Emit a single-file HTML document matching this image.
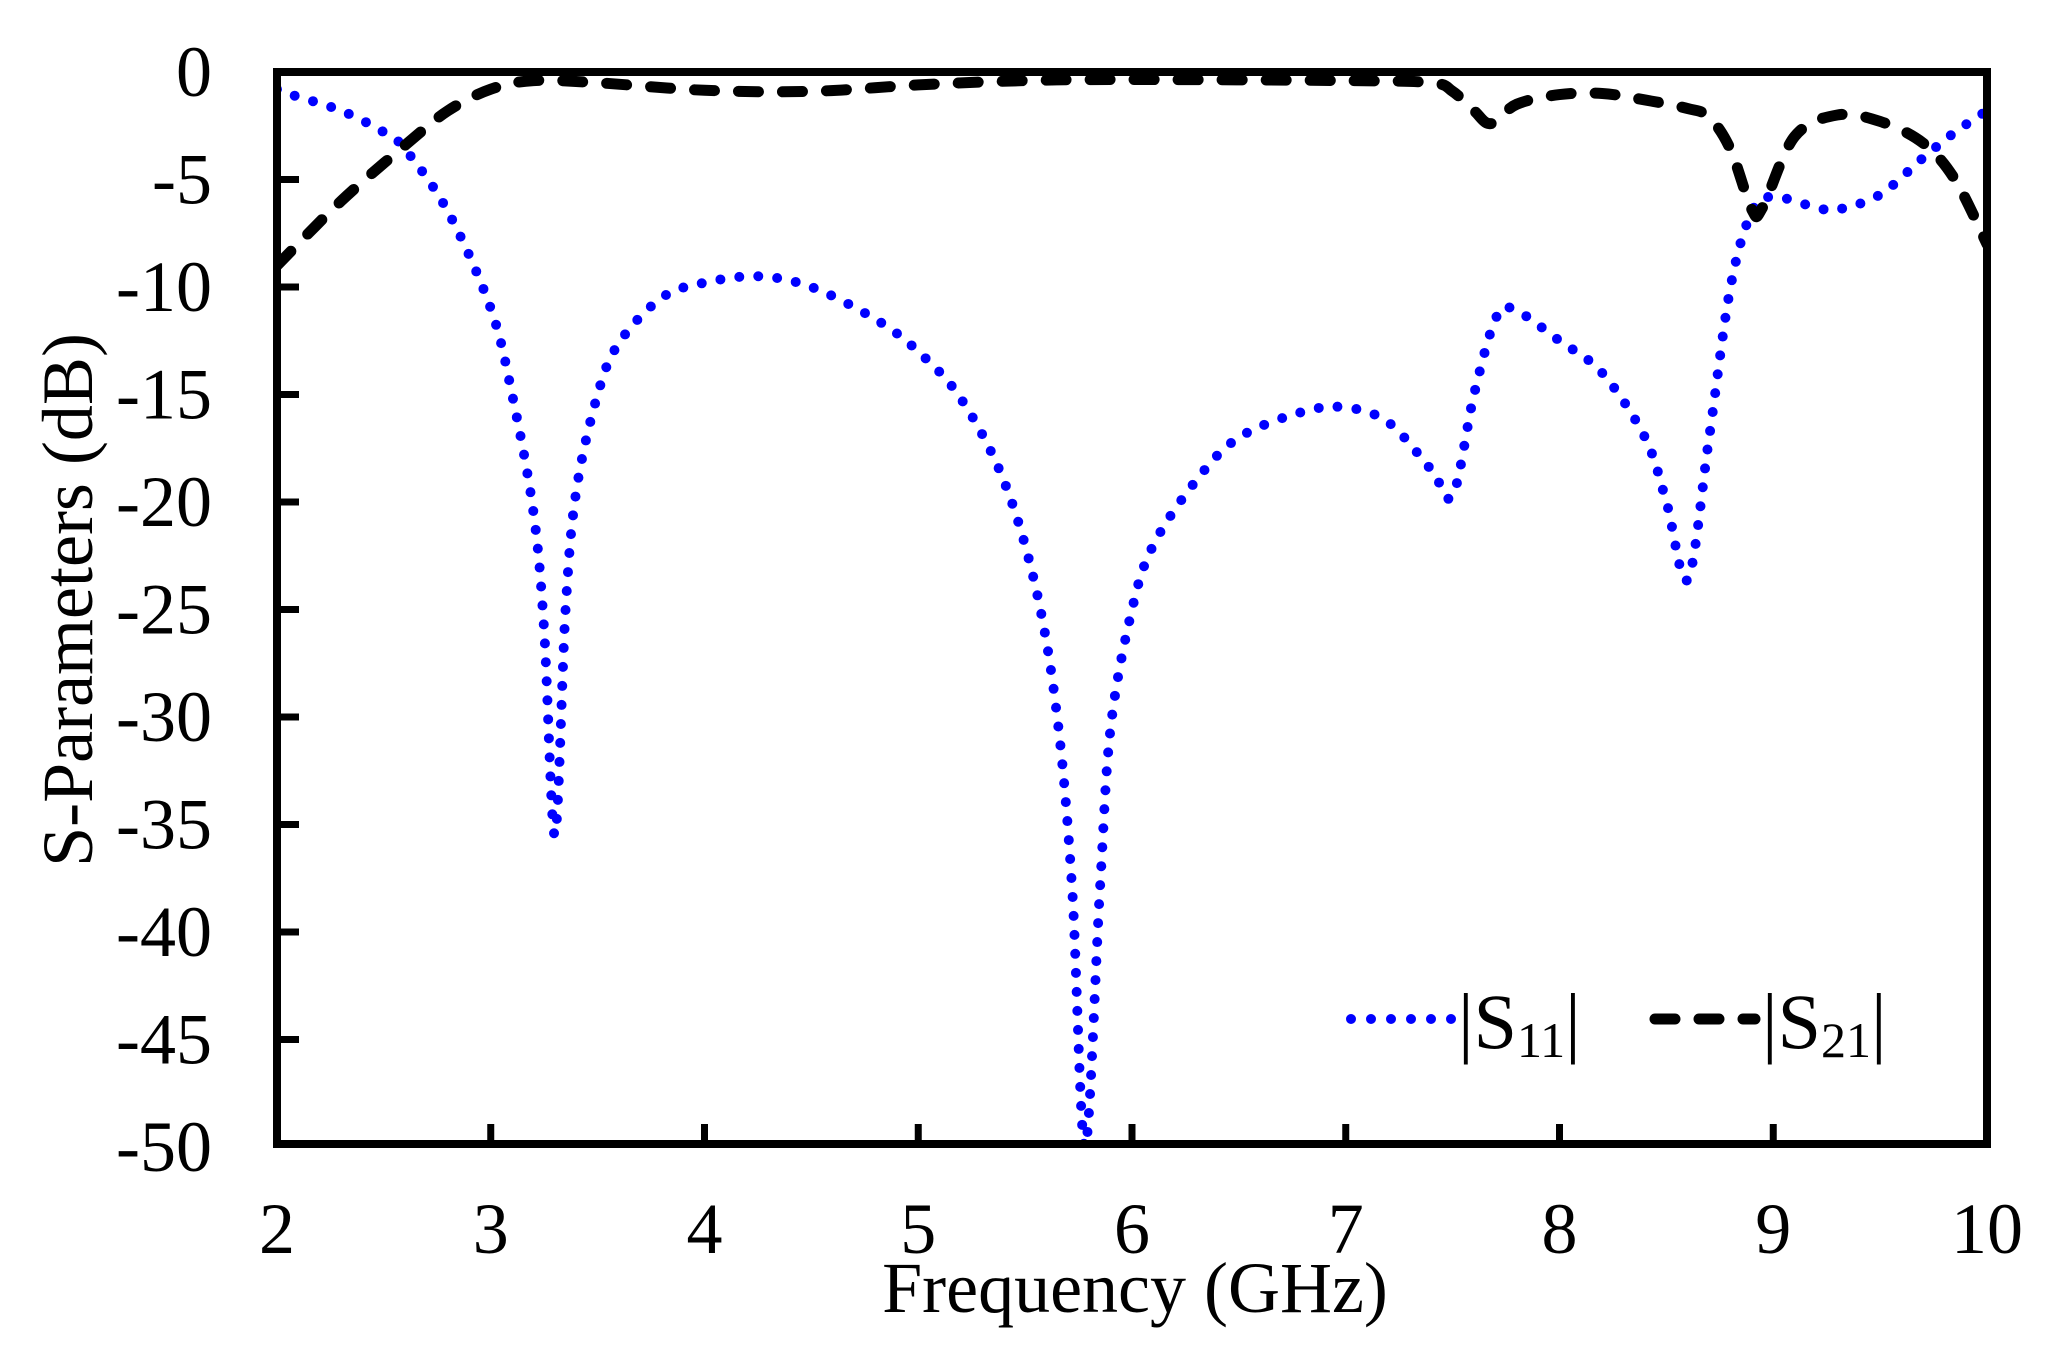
<!DOCTYPE html>
<html><head><meta charset="utf-8"><style>
html,body{margin:0;padding:0;background:#fff;}
svg{display:block;}
text{font-family:"Liberation Serif",serif;fill:#000;}
</style></head><body>
<svg id="s" width="2060" height="1345" viewBox="0 0 2060 1345" xmlns="http://www.w3.org/2000/svg">
<defs><clipPath id="c"><rect x="277" y="72" width="1710" height="1072"/></clipPath></defs>
<g id="curves" clip-path="url(#c)"></g>
<g id="axes"></g>
<text x="1135" y="1312" font-size="72" text-anchor="middle">Frequency (GHz)</text>
<text transform="translate(92,600) rotate(-90)" font-size="72" text-anchor="middle">S-Parameters (dB)</text>
<line x1="1351" y1="1019" x2="1452" y2="1019" stroke="#0000ff" stroke-width="10" stroke-linecap="round" stroke-dasharray="0 20"/>
<text x="1458" y="1048" font-size="78">|S<tspan font-size="50" dy="9">11</tspan><tspan dy="-9">|</tspan></text>
<line x1="1655" y1="1019" x2="1755" y2="1019" stroke="#000" stroke-width="11" stroke-linecap="round" stroke-dasharray="20 24"/>
<text x="1762" y="1048" font-size="78">|S<tspan font-size="50" dy="9">21</tspan><tspan dy="-9">|</tspan></text>
</svg>
<script>
var X=function(f){return 277+(f-2)*213.75;},Y=function(d){return 72-d*21.5;};
var s11=[[2.0,-0.8],[2.05,-1],[2.3,-1.8],[2.5,-2.8],[2.6,-3.6],[2.8,-6.5],[3.0,-11],[3.1,-15],[3.2,-20.5],[3.25,-26],[3.3,-35.5],[3.35,-25],[3.4,-19.5],[3.5,-15],[3.6,-12.6],[3.8,-10.5],[4.0,-9.8],[4.25,-9.5],[4.5,-10],[4.8,-11.5],[5.0,-13],[5.2,-15.2],[5.4,-19],[5.55,-24],[5.65,-30],[5.72,-38],[5.78,-50],[5.85,-38],[5.9,-30.5],[6.0,-25],[6.1,-22],[6.3,-19],[6.5,-17],[6.8,-15.8],[7.0,-15.6],[7.2,-16.3],[7.4,-18.5],[7.5,-19.7],[7.6,-15],[7.7,-11.5],[7.78,-11],[8.0,-12.5],[8.2,-14],[8.4,-17],[8.5,-20],[8.6,-23.6],[8.7,-17],[8.8,-10],[8.9,-6.5],[9.0,-5.8],[9.2,-6.3],[9.3,-6.4],[9.5,-5.7],[9.7,-4],[9.85,-2.8],[10,-1.8]];
var s21=[[2.0,-9],[2.3,-6],[2.6,-3.4],[2.8,-1.8],[3.0,-0.8],[3.2,-0.4],[3.5,-0.5],[4.0,-0.85],[4.5,-0.9],[5.0,-0.6],[5.5,-0.4],[6.0,-0.35],[7.0,-0.4],[7.4,-0.5],[7.5,-0.9],[7.6,-1.8],[7.68,-2.4],[7.8,-1.5],[8.0,-1.05],[8.2,-1.0],[8.4,-1.3],[8.6,-1.7],[8.7,-2.1],[8.8,-3.6],[8.9,-6.4],[8.95,-6.3],[9.1,-3],[9.3,-2],[9.5,-2.3],[9.7,-3.3],[9.85,-5],[10,-8]];
function path(d){var p=d.map(function(a){return [X(a[0]),Y(a[1])];});var s="M"+p[0][0]+","+p[0][1];
for(var i=0;i<p.length-1;i++){var p0=p[i-1]||p[i],p1=p[i],p2=p[i+1],p3=p[i+2]||p2;
s+=" C"+(p1[0]+(p2[0]-p0[0])/6)+","+(p1[1]+(p2[1]-p0[1])/6)+" "+(p2[0]-(p3[0]-p1[0])/6)+","+(p2[1]-(p3[1]-p1[1])/6)+" "+p2[0]+","+p2[1];}return s;}
var NS="http://www.w3.org/2000/svg",g=document.getElementById("curves");
function add(d,st){var e=document.createElementNS(NS,"path");e.setAttribute("d",path(d));e.setAttribute("fill","none");for(var k in st)e.setAttribute(k,st[k]);g.appendChild(e);}
add(s11,{stroke:"#0000ff","stroke-width":"10","stroke-linecap":"round","stroke-dasharray":"0 19"});
add(s21,{stroke:"#000","stroke-width":"11","stroke-linecap":"round","stroke-dasharray":"20 24"});
var a=document.getElementById("axes"),h='<rect x="277" y="72" width="1710" height="1072" fill="none" stroke="#000" stroke-width="8"/>';
for(var f=3;f<=9;f++)h+='<line x1="'+X(f)+'" y1="1144" x2="'+X(f)+'" y2="1124" stroke="#000" stroke-width="7"/>';
for(var f=2;f<=10;f++)h+='<text x="'+X(f)+'" y="1253" font-size="72" text-anchor="middle">'+f+'</text>';
for(var d=0;d>=-50;d-=5){if(d<0&&d>-50)h+='<line x1="277" y1="'+Y(d)+'" x2="299" y2="'+Y(d)+'" stroke="#000" stroke-width="7"/>';
h+='<text x="212" y="'+(Y(d)+24)+'" font-size="72" text-anchor="end">'+d+'</text>';}
a.innerHTML=h;
</script>
</body></html>
